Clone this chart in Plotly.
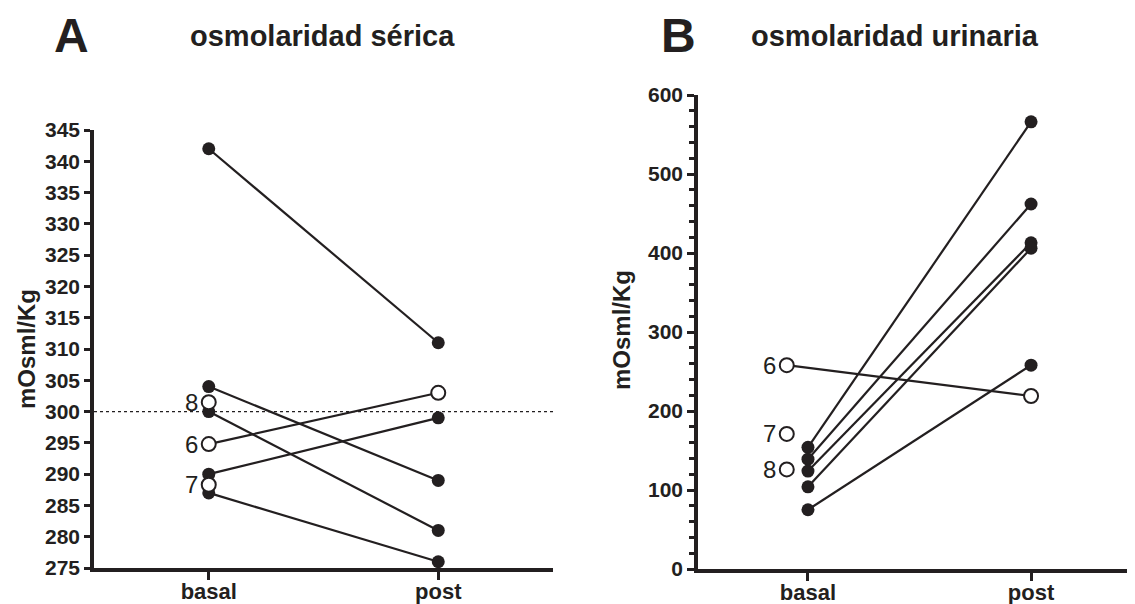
import plotly.graph_objects as go

# ---------------- data ----------------
categories = ["basal", "post"]

# Panel A: serum osmolality (mOsm/Kg)
serum_basal_filled = [342, 304, 300, 290, 287]
serum_post_filled = [311, 289, 281, 299, 276]
serum_open_ids = ["6", "8", "7"]
serum_open_basal = [294.8, 301.5, 288.3]
serum_open_post = [303, None, None]
serum_reference = 300

# Panel B: urinary osmolality (mOsm/Kg)
urine_basal_filled = [154, 139, 124, 104, 75]
urine_post_filled = [566, 462, 413, 406, 258]
urine_open_ids = ["6", "7", "8"]
urine_open_basal = [258, 171, 126]
urine_open_post = [219, None, None]

titles = ["osmolaridad sérica", "osmolaridad urinaria"]
panel_letters = ["A", "B"]
y_title = "mOsml/Kg"

# ---------------- style / layout helpers ----------------
INK = "#231f20"
FONT = "Liberation Sans, Arial, Helvetica, sans-serif"
open_offset_B = -0.095

# the page body adds an 8px margin; lay the figure out in window pixels
OFF = 8
W, H = 1135 - OFF, 604 - OFF


def px(x):
    return (x - OFF) / W


def py(y):
    return 1 - (y - OFF) / H


fig = go.Figure()


def add_pairs(basal, post, xa, ya):
    for b, p in zip(basal, post):
        fig.add_trace(go.Scatter(
            x=[0, 1], y=[b, p], mode="lines+markers",
            line=dict(color=INK, width=2.2),
            marker=dict(color=INK, size=13, line=dict(width=0)),
            xaxis=xa, yaxis=ya, showlegend=False, cliponaxis=False))


def add_open(ids, basal, post, xa, ya, xoff):
    for i, b, p in zip(ids, basal, post):
        if p is not None:
            xs, ys = [xoff, 1], [b, p]
            fig.add_trace(go.Scatter(
                x=xs, y=ys, mode="lines",
                line=dict(color=INK, width=2.2),
                xaxis=xa, yaxis=ya, showlegend=False))
        else:
            xs, ys = [xoff], [b]
        fig.add_trace(go.Scatter(
            x=xs, y=ys, mode="markers",
            marker=dict(color="white", size=14, line=dict(color=INK, width=2)),
            xaxis=xa, yaxis=ya, showlegend=False, cliponaxis=False))
        fig.add_annotation(x=xoff, y=b, xref=xa, yref=ya, text=i,
                           showarrow=False, xanchor="right", xshift=-9,
                           font=dict(family=FONT, size=24, color=INK))


add_pairs(serum_basal_filled, serum_post_filled, "x", "y")
add_open(serum_open_ids, serum_open_basal, serum_open_post, "x", "y", 0)
add_pairs(urine_basal_filled, urine_post_filled, "x2", "y2")
add_open(urine_open_ids, urine_open_basal, urine_open_post, "x2", "y2", open_offset_B)

# reference dotted line at 300
fig.add_shape(type="line", xref="x", yref="y", x0=-0.5, x1=1.5,
              y0=serum_reference, y1=serum_reference,
              line=dict(color=INK, width=1.2, dash="dot"), layer="below")

tickfont = dict(family=FONT, size=21, color=INK, weight="bold")
catfont = dict(family=FONT, size=22, color=INK, weight="bold")

common_x = dict(tickvals=[0, 1], ticktext=categories, ticks="outside",
                ticklen=8, tickwidth=3, tickcolor=INK, showline=True,
                linewidth=3.5, linecolor=INK, showgrid=False, zeroline=False,
                tickfont=catfont, fixedrange=True, automargin=False,
                ticklabelstandoff=-7)
common_y = dict(ticks="outside", tickwidth=3, tickcolor=INK, showline=True,
                linewidth=3.5, linecolor=INK, showgrid=False, zeroline=False,
                tickfont=tickfont, fixedrange=True, automargin=False)

fig.update_layout(
    width=W, height=H,
    margin=dict(l=0, r=0, t=0, b=0, pad=0, autoexpand=False),
    paper_bgcolor="white", plot_bgcolor="white",
    font=dict(family=FONT, color=INK),
    xaxis=dict(domain=[px(94), px(553)], range=[-0.5, 1.5], anchor="y", **common_x),
    yaxis=dict(domain=[py(568), py(130)], range=[275, 345], tick0=275, dtick=5,
               ticklen=6, anchor="x", **common_y),
    xaxis2=dict(domain=[px(698), 1.0], range=[-0.493, 1.466], anchor="y2", **common_x),
    yaxis2=dict(domain=[py(569), py(95)], range=[0, 600], tick0=0, dtick=100,
                ticklen=7, anchor="x2",
                minor=dict(dtick=20, ticks="outside", ticklen=5, tickwidth=3,
                           tickcolor=INK), **common_y),
)

# panel letters and titles
for letter, xc in zip(panel_letters, [71, 678]):
    fig.add_annotation(x=px(xc), y=py(35), xref="paper", yref="paper",
                       text="<b>%s</b>" % letter, showarrow=False,
                       xanchor="center", yanchor="middle",
                       font=dict(family=FONT, size=48, color=INK))
for title, xc in zip(titles, [323, 895]):
    fig.add_annotation(x=px(xc), y=py(36), xref="paper", yref="paper",
                       text="<b>%s</b>" % title, showarrow=False,
                       xanchor="center", yanchor="middle",
                       font=dict(family=FONT, size=29, color=INK))

# y-axis titles
for xc, yc in zip([26, 621], [349, 330]):
    fig.add_annotation(x=px(xc), y=py(yc), xref="paper", yref="paper",
                       text="<b>%s</b>" % y_title, showarrow=False, textangle=-90,
                       xanchor="center", yanchor="middle",
                       font=dict(family=FONT, size=24, color=INK))

fig.write_html("out.html")
